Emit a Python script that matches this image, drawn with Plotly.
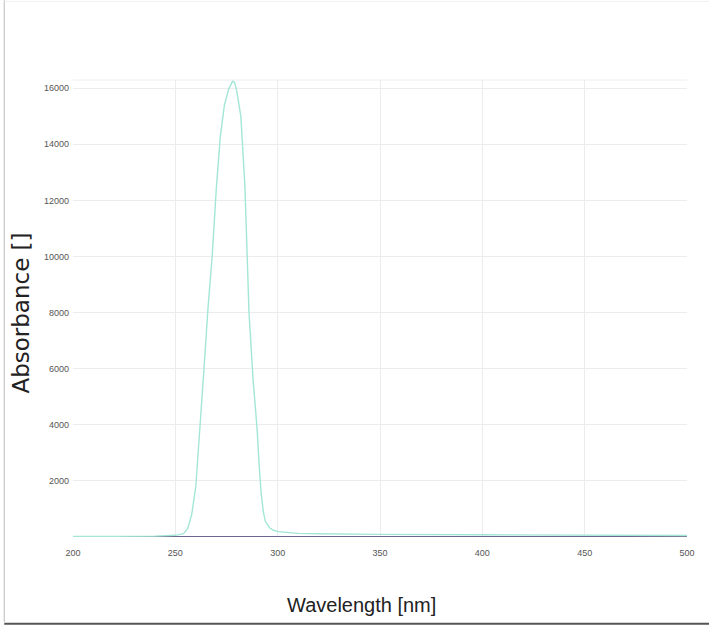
import plotly.graph_objects as go

wavelength = [200, 210, 220, 230, 240, 250, 252, 254, 256, 258, 260, 262, 264, 266, 268,
              270, 272, 274, 276, 278, 279, 280, 282, 284, 285, 286, 288, 289, 290, 291,
              292, 293, 294, 296, 298, 300, 305, 310, 320, 330, 350, 400, 450, 500]
absorbance = [20, 20, 20, 25, 30, 60, 80, 120, 300, 800, 1800, 3800, 6000, 8200, 10000,
              12400, 14300, 15400, 15950, 16250, 16200, 15900, 15000, 12500, 9900, 8000, 5600, 4700, 3800, 2500,
              1500, 900, 550, 330, 240, 190, 150, 130, 115, 105, 95, 80, 65, 55]
baseline_wl = [200, 250, 300, 350, 400, 450, 500]
baseline_abs = [0, 0, 0, 0, 0, 0, 0]

x_ticks = [200, 250, 300, 350, 400, 450, 500]
y_ticks = [2000, 4000, 6000, 8000, 10000, 12000, 14000, 16000]

fig = go.Figure()
fig.add_trace(go.Scatter(x=baseline_wl, y=baseline_abs, mode="lines",
                         line=dict(color="#6e6690", width=2), showlegend=False))
fig.add_trace(go.Scatter(x=wavelength, y=absorbance, mode="lines",
                         line=dict(color="#a3e6d6", width=1.4), showlegend=False))

tickfont = dict(family="Liberation Sans, sans-serif", size=9, color="#555555")
fig.update_layout(
    width=709, height=627,
    margin=dict(l=73, r=22, t=80, b=90),
    paper_bgcolor="white", plot_bgcolor="white",
    xaxis=dict(range=[200, 500], tickvals=x_ticks, ticktext=[str(v) for v in x_ticks],
               showgrid=True, gridcolor="#ececec", zeroline=False, automargin=False,
               tickfont=tickfont, ticks="", ticklabelstandoff=9),
    yaxis=dict(range=[0, 16290], tickvals=y_ticks, ticktext=[str(v) for v in y_ticks],
               showgrid=True, gridcolor="#ececec", zeroline=False, automargin=False,
               tickfont=tickfont, ticks="", ticklabelstandoff=3),
)
fig.add_annotation(text="Wavelength [nm]", xref="paper", yref="paper", x=0.47, y=-0.149,
                   xanchor="center", yanchor="middle", showarrow=False,
                   font=dict(family="Liberation Sans, sans-serif", size=20, color="#222222"))
fig.add_annotation(text="Absorbance []", xref="paper", yref="paper", x=-0.0847, y=0.491,
                   xanchor="center", yanchor="middle", showarrow=False, textangle=-90,
                   font=dict(family="DejaVu Sans, Verdana, sans-serif", size=23, color="#222222"))
# frame around the card
fig.add_shape(type="line", xref="paper", yref="paper", x0=-0.112, x1=-0.112, y0=1.175, y1=-0.186,
              line=dict(color="#bbbbbb", width=1))
fig.add_shape(type="line", xref="paper", yref="paper", x0=-0.112, x1=1.04, y0=-0.190, y1=-0.190,
              line=dict(color="#555555", width=2))
fig.add_shape(type="line", xref="paper", yref="paper", x0=-0.112, x1=1.04, y0=1.172, y1=1.172,
              line=dict(color="#f0f0f0", width=1))
fig.add_shape(type="line", xref="paper", yref="paper", x0=0, x1=1, y0=1, y1=1,
              line=dict(color="#eeeeee", width=1))

fig.write_html("out.html", config={"displayModeBar": False},
               post_script="document.body.style.margin='0';")
